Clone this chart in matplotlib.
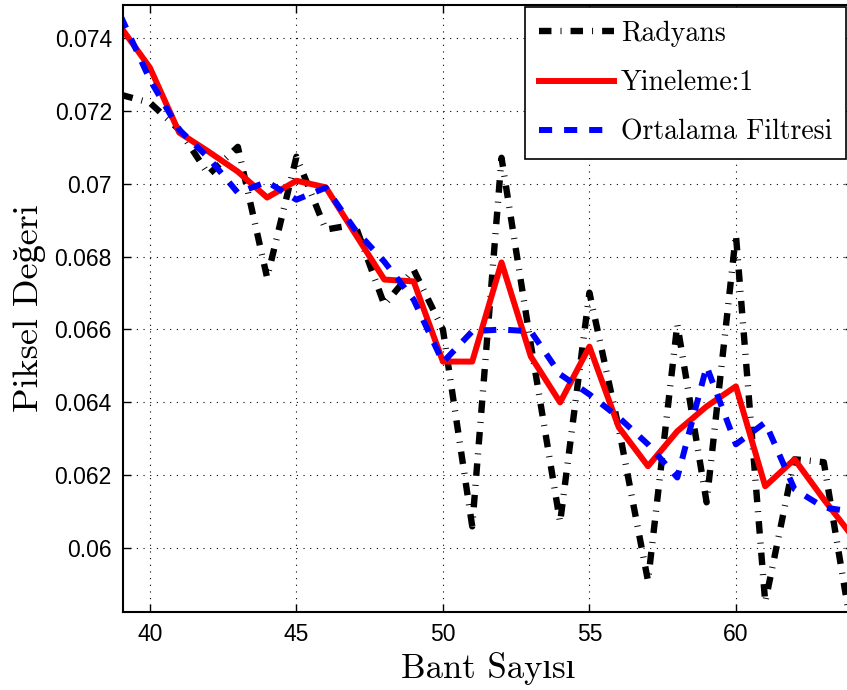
import numpy as np
import matplotlib
matplotlib.use('Agg')
import matplotlib.pyplot as plt

# Bant numaralari ve piksel degerleri
bant = list(range(39, 65))

radyans = [0.07244, 0.07222, 0.07148, 0.07025, 0.07101, 0.06742, 0.07074, 0.06874,
           0.06888, 0.06668, 0.06764, 0.06600, 0.06060, 0.07071, 0.06559, 0.06071,
           0.06701, 0.06330, 0.05910, 0.06614, 0.06126, 0.06860, 0.05852, 0.06244,
           0.06236, 0.05750]

yineleme = [0.07430, 0.07318, 0.07140, 0.07088, 0.07033, 0.06962, 0.07008, 0.06990,
            0.06863, 0.06737, 0.06732, 0.06512, 0.06512, 0.06784, 0.06526, 0.06400,
            0.06553, 0.06332, 0.06225, 0.06321, 0.06389, 0.06444, 0.06170, 0.06244,
            0.06134, 0.06030]

ortalama = [0.07460, 0.07285, 0.07148, 0.07071, 0.06975, 0.07005, 0.06956, 0.06989,
            0.06874, 0.06786, 0.06682, 0.06510, 0.06595, 0.06600, 0.06595, 0.06477,
            0.06422, 0.06359, 0.06285, 0.06194, 0.06499, 0.06285, 0.06345, 0.06162,
            0.06112, 0.06100]

yticks = [0.06, 0.062, 0.064, 0.066, 0.068, 0.07, 0.072, 0.074]
yticklabels = ['0.06', '0.062', '0.064', '0.066', '0.068', '0.07', '0.072', '0.074']
xticks = [40, 45, 50, 55, 60]

# cmr10 has no ı / ğ, those come from Liberation Serif
serif = ['cmr10', 'Liberation Serif']

fig = plt.figure(figsize=(8.47, 6.9), dpi=100)
ax = fig.add_axes([0.1452, 0.113, 0.862, 0.8797])

ax.plot(bant, radyans, color='black', lw=4.6, dashes=(1.95, 1.42, 0.15, 1.42),
        label='Radyans')
ax.plot(bant, yineleme, color='red', lw=4.3, label='Yineleme:1')
ax.plot(bant, ortalama, color='blue', lw=4.3, dashes=(2.2, 2), label='Ortalama Filtresi')

ax.set_xlim(39.08, 64)
ax.set_ylim(0.05825, 0.0749)
ax.set_xticks(xticks)
ax.set_yticks(yticks)
ax.set_yticklabels(yticklabels)
ax.set_xticklabels([str(t) for t in xticks])
for lab in ax.get_xticklabels() + ax.get_yticklabels():
    lab.set_fontfamily('Liberation Sans')
    lab.set_fontsize(16.5)

ax.tick_params(direction='in', top=True, right=True, length=6, width=1, pad=8)
ax.grid(True, color='black', linestyle=(0, (1, 5)), linewidth=0.8)
for s in ax.spines.values():
    s.set_linewidth(1.5)

ax.set_xlabel('Bant Sayısı', family=serif, fontsize=25, labelpad=4)
ax.set_ylabel('Piksel Değeri', family=serif, fontsize=26, labelpad=6)

leg = ax.legend(loc='upper right', bbox_to_anchor=(846 / 847, 1 - 7 / 690),
                bbox_transform=fig.transFigure, borderaxespad=0,
                fancybox=False, framealpha=1, edgecolor='black',
                prop={'family': serif, 'size': 20}, handlelength=2.7,
                labelspacing=0.82, handletextpad=0.25, borderpad=0.5)
leg.get_frame().set_linewidth(1.2)

fig.savefig('out.png', dpi=100)
